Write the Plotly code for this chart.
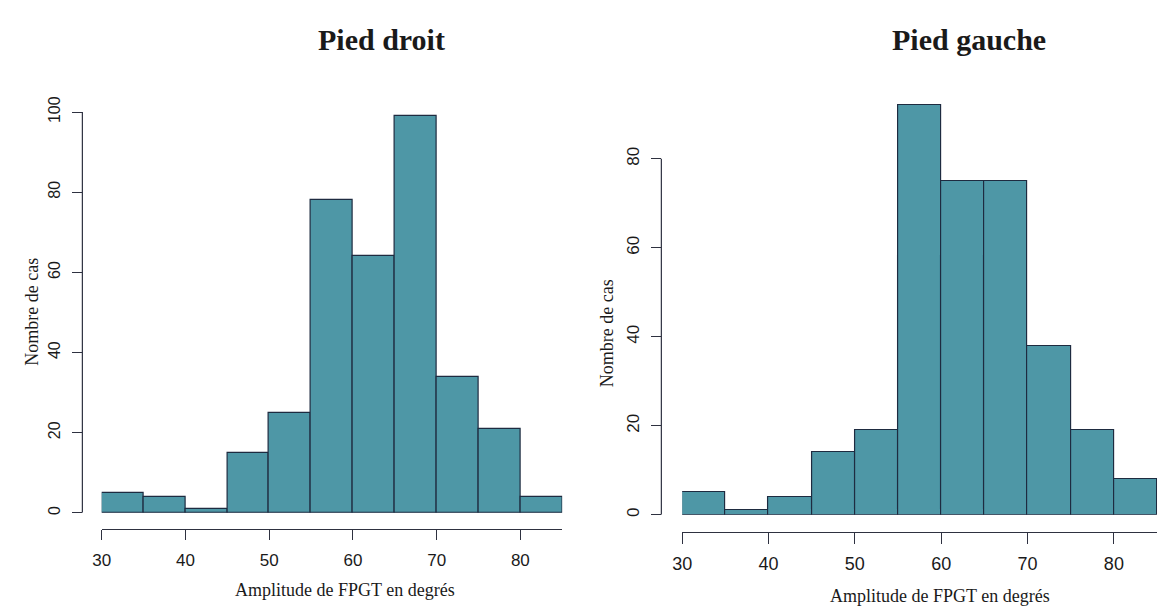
import plotly.graph_objects as go

# ---- data ----
bin_edges = [30, 35, 40, 45, 50, 55, 60, 65, 70, 75, 80, 85]
counts_droit = [5, 4, 1, 15, 25, 78, 64, 99, 34, 21, 4]
counts_gauche = [5, 1, 4, 14, 19, 92, 75, 75, 38, 19, 8]
x_ticks = [30, 40, 50, 60, 70, 80]
y_ticks_droit = [0, 20, 40, 60, 80, 100]
y_ticks_gauche = [0, 20, 40, 60, 80]
titles = ["Pied droit", "Pied gauche"]
x_title = "Amplitude de FPGT en degrés"
y_title = "Nombre de cas"

W, H = 1164, 609
def px(x):
    return x / W
def py(y):
    return 1 - y / H

FILL = "#4E97A6"
EDGE = "#1E2B40"
AXC = "#2E3140"
TXT = "#1a1a1a"

centers = [(a + b) / 2 for a, b in zip(bin_edges[:-1], bin_edges[1:])]
widths = [b - a for a, b in zip(bin_edges[:-1], bin_edges[1:])]

fig = go.Figure()
fig.add_trace(go.Bar(x=centers, y=counts_droit, width=widths,
                     marker=dict(color=FILL, line=dict(color=EDGE, width=1.2)),
                     xaxis="x", yaxis="y", showlegend=False))
fig.add_trace(go.Bar(x=centers, y=counts_gauche, width=widths,
                     marker=dict(color=FILL, line=dict(color=EDGE, width=1.2)),
                     xaxis="x2", yaxis="y2", showlegend=False))

def tickfont(size):
    return dict(family="Liberation Sans, Arial, sans-serif", size=size, color=TXT)

def xaxis_style(fsize, tlen, standoff):
    return dict(range=[bin_edges[0], bin_edges[-1]], tickvals=x_ticks, ticks="outside",
                ticklen=tlen, tickwidth=1.2, tickcolor=AXC, showline=True, linecolor=AXC,
                linewidth=1.2, showgrid=False, zeroline=False, tickfont=tickfont(fsize),
                anchor="free", ticklabelstandoff=standoff)

def yaxis_style(fsize):
    return dict(ticks="outside", ticklen=10, tickwidth=1.2, tickcolor=AXC,
                showline=False, showgrid=False, zeroline=False, tickfont=tickfont(fsize),
                tickangle=-90, anchor="free", ticklabelstandoff=6)

fig.update_layout(
    width=W, height=H, margin=dict(l=0, r=0, t=0, b=0),
    paper_bgcolor="white", plot_bgcolor="white", bargap=0,
    xaxis=dict(domain=[px(92.5), px(557)], position=py(529), **xaxis_style(17, 10, 5)),
    yaxis=dict(domain=[py(512), py(99)], range=[0, 100], tickvals=y_ticks_droit,
               position=px(73), **yaxis_style(16)),
    xaxis2=dict(domain=[px(678), px(1157)], position=py(532), **xaxis_style(18, 11, 4)),
    yaxis2=dict(domain=[py(514), py(78.4)], range=[0, 95], tickvals=y_ticks_gauche,
                position=px(657), **yaxis_style(17)),
)

# y axis lines spanning first to last tick
fig.add_shape(type="line", xref="paper", yref="y", x0=px(73), x1=px(73),
              y0=y_ticks_droit[0], y1=y_ticks_droit[-1], line=dict(color=AXC, width=1.2))
fig.add_shape(type="line", xref="paper", yref="y2", x0=px(657), x1=px(657),
              y0=y_ticks_gauche[0], y1=y_ticks_gauche[-1], line=dict(color=AXC, width=1.2))

serif = "Liberation Serif, Times New Roman, serif"
ann = []
ann.append(dict(text=f"<b>{titles[0]}</b>", x=px(375), y=py(24), xref="paper", yref="paper",
                showarrow=False, xanchor="center", yanchor="middle",
                font=dict(family=serif, size=30, color=TXT)))
ann.append(dict(text=f"<b>{titles[1]}</b>", x=px(967), y=py(24), xref="paper", yref="paper",
                showarrow=False, xanchor="center", yanchor="middle",
                font=dict(family=serif, size=30, color=TXT)))
ann.append(dict(text=x_title, x=px(338), y=py(591), xref="paper", yref="paper",
                showarrow=False, xanchor="center", yanchor="middle",
                font=dict(family=serif, size=18, color=TXT)))
ann.append(dict(text=x_title, x=px(938), y=py(598), xref="paper", yref="paper",
                showarrow=False, xanchor="center", yanchor="middle",
                font=dict(family=serif, size=18, color=TXT)))
ann.append(dict(text=y_title, x=px(22), y=py(305), xref="paper", yref="paper",
                showarrow=False, xanchor="center", yanchor="middle", textangle=-90,
                font=dict(family=serif, size=18, color=TXT)))
ann.append(dict(text=y_title, x=px(603), y=py(327), xref="paper", yref="paper",
                showarrow=False, xanchor="center", yanchor="middle", textangle=-90,
                font=dict(family=serif, size=18, color=TXT)))
fig.update_layout(annotations=ann)

fig.write_html("out.html")
